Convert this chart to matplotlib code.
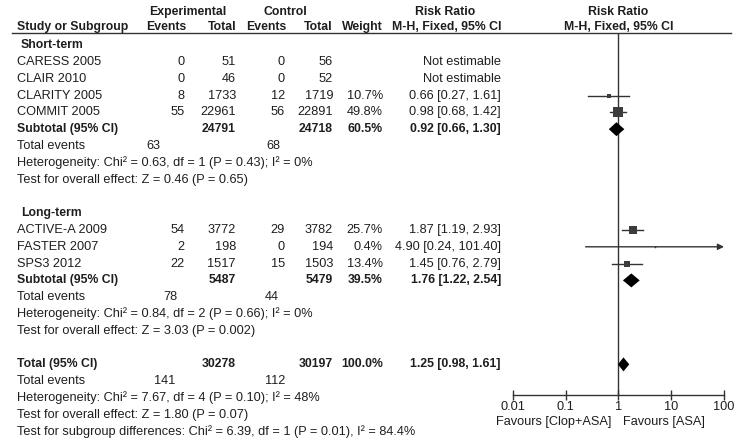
import matplotlib
matplotlib.use('Agg')
import matplotlib.pyplot as plt
from matplotlib.ticker import NullLocator

plt.rcParams['font.family'] = ['Liberation Sans', 'DejaVu Sans']

# ---- data ----
short_names = ['CARESS 2005', 'CLAIR 2010', 'CLARITY 2005', 'COMMIT 2005']
short_exp_events = [0, 0, 8, 55]
short_exp_total = [51, 46, 1733, 22961]
short_ctl_events = [0, 0, 12, 56]
short_ctl_total = [56, 52, 1719, 22891]
short_weight = [None, None, 10.7, 49.8]
short_rr = [None, None, 0.66, 0.98]
short_lo = [None, None, 0.27, 0.68]
short_hi = [None, None, 1.61, 1.42]

long_names = ['ACTIVE-A 2009', 'FASTER 2007', 'SPS3 2012']
long_exp_events = [54, 2, 22]
long_exp_total = [3772, 198, 1517]
long_ctl_events = [29, 0, 15]
long_ctl_total = [3782, 194, 1503]
long_weight = [25.7, 0.4, 13.4]
long_rr = [1.87, 4.90, 1.45]
long_lo = [1.19, 0.24, 0.76]
long_hi = [2.93, 101.40, 2.79]

# subtotal / total: exp total, ctl total, weight, rr, lo, hi
short_sub = [24791, 24718, 60.5, 0.92, 0.66, 1.30]
long_sub = [5487, 5479, 39.5, 1.76, 1.22, 2.54]
overall = [30278, 30197, 100.0, 1.25, 0.98, 1.61]

short_events = [63, 68]
long_events = [78, 44]
overall_events = [141, 112]

short_het = 'Heterogeneity: Chi\u00b2 = 0.63, df = 1 (P = 0.43); I\u00b2 = 0%'
short_z = 'Test for overall effect: Z = 0.46 (P = 0.65)'
long_het = 'Heterogeneity: Chi\u00b2 = 0.84, df = 2 (P = 0.66); I\u00b2 = 0%'
long_z = 'Test for overall effect: Z = 3.03 (P = 0.002)'
overall_het = 'Heterogeneity: Chi\u00b2 = 7.67, df = 4 (P = 0.10); I\u00b2 = 48%'
overall_z = 'Test for overall effect: Z = 1.80 (P = 0.07)'
subgroup_test = ('Test for subgroup differences: Chi\u00b2 = 6.39, df = 1 '
                 '(P = 0.01), I\u00b2 = 84.4%')

x_ticks = [0.01, 0.1, 1, 10, 100]
x_ticklabels = ['0.01', '0.1', '1', '10', '100']

# ---- layout (pixels) ----
W, H = 742, 443
FS = 9.2      # normal text
FSB = 8.8     # bold text
TXT = '#1e1e1e'
LINE = '#333333'
SQ = '#3c3c3c'

X_NAME = 17
X_EE, X_ET, X_CE, X_CT, X_W, X_RR = 185, 236, 285, 333, 383, 501
AX_L, AX_R = 512.7, 724.0
AX_TOP, AX_BOT = 33.0, 394.5
Y0, DY = 45.2, 16.8


def row_y(i):
    return Y0 + i * DY


fig = plt.figure(figsize=(W / 100, H / 100), dpi=100)
tax = fig.add_axes([0, 0, 1, 1])
tax.set_xlim(0, W)
tax.set_ylim(H, 0)
tax.axis('off')

fax = fig.add_axes([AX_L / W, (H - AX_BOT) / H, (AX_R - AX_L) / W,
                    (AX_BOT - AX_TOP) / H])
fax.set_xscale('log')
fax.set_xlim(0.01, 100)
fax.set_ylim(AX_BOT, AX_TOP)
fax.patch.set_visible(False)


def txt(x, y, s, ha='right', bold=False):
    tax.text(x, y, s, ha=ha, va='center', color=TXT,
             fontsize=FSB if bold else FS,
             fontweight='bold' if bold else 'normal')


def fmt_rr(r, lo, hi):
    return '%.2f [%.2f, %.2f]' % (r, lo, hi)


# header
txt(188, 12, 'Experimental', ha='center', bold=True)
txt(285, 12, 'Control', ha='center', bold=True)
txt(445, 12, 'Risk Ratio', ha='center', bold=True)
txt(618.5, 12, 'Risk Ratio', ha='center', bold=True)
hy = 27
txt(X_NAME, hy, 'Study or Subgroup', ha='left', bold=True)
txt(X_EE + 1, hy, 'Events', bold=True)
txt(X_ET, hy, 'Total', bold=True)
txt(X_CE + 1, hy, 'Events', bold=True)
txt(X_CT, hy, 'Total', bold=True)
txt(X_W, hy, 'Weight', bold=True)
txt(X_RR, hy, 'M-H, Fixed, 95% CI', bold=True)
txt(619, hy, 'M-H, Fixed, 95% CI', ha='center', bold=True)
tax.plot([12, 731], [AX_TOP, AX_TOP], color=LINE, lw=1)


def study_rows(start, names, ee, et, ce, ct, w, rr, lo, hi):
    for k, name in enumerate(names):
        y = row_y(start + k)
        txt(X_NAME, y, name, ha='left')
        txt(X_EE, y, str(ee[k]))
        txt(X_ET, y, str(et[k]))
        txt(X_CE, y, str(ce[k]))
        txt(X_CT, y, str(ct[k]))
        if rr[k] is None:
            txt(X_RR, y, 'Not estimable')
            continue
        txt(X_W, y, '%.1f%%' % w[k])
        txt(X_RR, y, fmt_rr(rr[k], lo[k], hi[k]))
        side = max(1.5 * w[k] ** 0.5, 1.5)
        if hi[k] > 100:
            fax.annotate('', xy=(100, y), xytext=(lo[k], y),
                         arrowprops=dict(arrowstyle='-|>', color=LINE,
                                         lw=1, mutation_scale=9,
                                         shrinkA=0, shrinkB=0))
        else:
            fax.plot([lo[k], hi[k]], [y, y], color=LINE, lw=1)
        fax.plot(rr[k], y, marker='s', ms=side * 0.72, color=SQ,
                 mec=SQ, mew=0)


def summary_row(i, label, vals):
    y = row_y(i)
    txt(X_NAME, y, label, ha='left', bold=True)
    txt(X_ET, y, str(vals[0]), bold=True)
    txt(X_CT, y, str(vals[1]), bold=True)
    txt(X_W, y, '%.1f%%' % vals[2], bold=True)
    txt(X_RR, y, fmt_rr(vals[3], vals[4], vals[5]), bold=True)
    h = 7.0
    fax.fill([vals[4], vals[3], vals[5], vals[3]], [y, y - h, y, y + h],
             color='black', lw=0, zorder=4)


def footer_rows(i, events, ex, cx, het, z):
    txt(X_NAME, row_y(i), 'Total events', ha='left')
    txt(ex, row_y(i), str(events[0]), ha='center')
    txt(cx, row_y(i), str(events[1]), ha='center')
    txt(X_NAME, row_y(i + 1), het, ha='left')
    txt(X_NAME, row_y(i + 2), z, ha='left')


# short-term block
txt(21, row_y(0), 'Short-term', ha='left', bold=True)
study_rows(1, short_names, short_exp_events, short_exp_total,
           short_ctl_events, short_ctl_total, short_weight, short_rr,
           short_lo, short_hi)
summary_row(5, 'Subtotal (95% CI)', short_sub)
footer_rows(6, short_events, 153, 273, short_het, short_z)

# long-term block
txt(21, row_y(10), 'Long-term', ha='left', bold=True)
study_rows(11, long_names, long_exp_events, long_exp_total,
           long_ctl_events, long_ctl_total, long_weight, long_rr,
           long_lo, long_hi)
summary_row(14, 'Subtotal (95% CI)', long_sub)
footer_rows(15, long_events, 170, 272, long_het, long_z)

# overall
summary_row(19, 'Total (95% CI)', overall)
footer_rows(20, overall_events, 165, 275, overall_het, overall_z)
txt(X_NAME, row_y(23), subgroup_test, ha='left')

# forest axis
fax.axvline(1, color=LINE, lw=1, zorder=1)
for s in ['left', 'right', 'top']:
    fax.spines[s].set_visible(False)
fax.spines['bottom'].set_color(LINE)
fax.spines['bottom'].set_linewidth(1)
fax.set_yticks([])
fax.set_xticks(x_ticks)
fax.set_xticklabels(x_ticklabels)
fax.xaxis.set_minor_locator(NullLocator())
fax.tick_params(axis='x', direction='inout', length=6.5, width=1,
                color=LINE, pad=1.5, labelsize=FS, labelcolor=TXT)

txt(611.5, 421.5, 'Favours [Clop+ASA]')
txt(623, 421.5, 'Favours [ASA]', ha='left')

fig.savefig('out.png', dpi=100)
